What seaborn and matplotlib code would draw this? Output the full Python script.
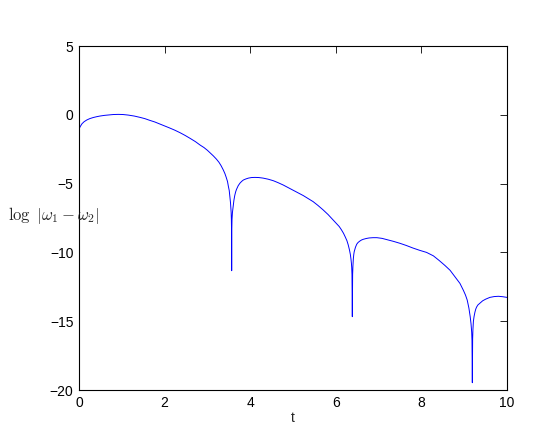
import matplotlib
matplotlib.use("Agg")
import matplotlib.pyplot as plt
import seaborn as sns
import pandas as pd

# values
t = [0.0, 0.03, 0.07, 0.12, 0.18, 0.25, 0.33, 0.41, 0.49, 0.6, 0.7, 0.8, 0.92,
     1.03, 1.15, 1.29, 1.43, 1.54, 1.65, 1.77, 1.89, 2.0, 2.12, 2.24, 2.36, 2.48,
     2.6, 2.72, 2.83, 2.92, 3.0, 3.07, 3.14, 3.21, 3.27, 3.32, 3.37, 3.41, 3.44,
     3.47, 3.49, 3.51, 3.52, 3.53, 3.54, 3.55, 3.555, 3.56, 3.564, 3.567,
     3.57, 3.575, 3.585, 3.6, 3.62, 3.64, 3.66, 3.68, 3.72, 3.76, 3.8, 3.84,
     3.9, 3.96, 4.03, 4.11, 4.2, 4.3, 4.42, 4.54, 4.65, 4.77, 4.88, 5.0, 5.12,
     5.24, 5.35, 5.47, 5.58, 5.7, 5.82, 5.94, 6.01, 6.08, 6.13, 6.18, 6.22, 6.26,
     6.29, 6.32, 6.34, 6.355, 6.365, 6.372, 6.378, 6.386,
     6.393, 6.4, 6.41, 6.42, 6.43, 6.445, 6.46, 6.475, 6.49, 6.52, 6.56, 6.6,
     6.64, 6.71, 6.78, 6.87, 6.96, 7.08, 7.2, 7.35, 7.5, 7.65, 7.8, 7.96, 8.12,
     8.28, 8.42, 8.55, 8.67, 8.78, 8.9, 8.98, 9.03, 9.07, 9.11, 9.14, 9.16,
     9.175, 9.182, 9.19,
     9.197, 9.204, 9.215, 9.23, 9.25, 9.27, 9.29, 9.32, 9.37, 9.43, 9.5, 9.6,
     9.7, 9.8, 9.9, 10.0]
log_diff = [-1.03, -0.85, -0.65, -0.5, -0.38, -0.28, -0.2, -0.14, -0.09, -0.04,
            -0.01, 0.02, 0.03, 0.02, -0.02, -0.09, -0.19, -0.28, -0.4, -0.52,
            -0.67, -0.8, -0.96, -1.12, -1.3, -1.5, -1.72, -1.95, -2.2, -2.38,
            -2.58, -2.78, -2.99, -3.22, -3.45, -3.7, -4.0, -4.28, -4.55, -4.85,
            -5.2, -5.5, -5.8, -6.05, -6.4, -6.8, -7.1, -7.6, -8.4, -11.33,
            -8.4, -7.6, -7.1, -6.7, -6.2, -5.85, -5.6, -5.42, -5.15, -4.97, -4.84,
            -4.74, -4.66, -4.6, -4.56, -4.55, -4.56, -4.6, -4.68, -4.79, -4.93,
            -5.1, -5.28, -5.47, -5.67, -5.87, -6.08, -6.31, -6.58, -6.9, -7.25,
            -7.65, -7.88, -8.12, -8.35, -8.61, -8.87, -9.15, -9.45, -9.83, -10.15,
            -10.5, -10.8, -11.1, -11.6, -14.67,
            -11.6, -11.0, -10.45, -10.15, -9.95, -9.77, -9.62, -9.5, -9.4, -9.28,
            -9.18, -9.1, -9.05, -8.99, -8.95, -8.93, -8.93, -8.98, -9.08, -9.2,
            -9.34, -9.5, -9.68, -9.85, -10.0, -10.25, -10.6, -10.95, -11.3,
            -11.75, -12.25, -12.75, -13.1, -13.46, -14.05, -14.67, -15.2,
            -15.8, -16.4, -19.47,
            -16.3, -15.6, -15.0, -14.67, -14.35, -14.12, -13.97, -13.82, -13.68,
            -13.52, -13.4, -13.27, -13.21, -13.19, -13.22, -13.27]

df = pd.DataFrame({"t": t, "log_diff": log_diff})

sns.set_style("white")
plt.rcParams["font.family"] = ["Liberation Sans", "DejaVu Sans"]
plt.rcParams["mathtext.fontset"] = "cm"

fig = plt.figure(figsize=(5.57, 4.42), dpi=100)
ax = fig.add_axes([79 / 557, 52 / 442, 428 / 557, 344 / 442])

sns.lineplot(data=df, x="t", y="log_diff", ax=ax, color="blue",
             linewidth=0.7, sort=False, estimator=None)

ax.set_xlim(0, 10)
ax.set_ylim(-20, 5)
ax.set_xticks([0, 2, 4, 6, 8, 10])
ax.set_yticks([-20, -15, -10, -5, 0, 5])
ax.tick_params(direction="in", length=5, width=0.6, top=True, right=True,
               labelsize=10, colors="black", pad=4)
for s in ax.spines.values():
    s.set_visible(True)
    s.set_color("black")
    s.set_linewidth(0.8)

ax.set_xlabel("t", fontsize=10, labelpad=1)
ax.set_ylabel("")
fig.text(54 / 557, 1 - 215 / 442, r"$\log\ |\omega_1-\omega_2|$", fontsize=12,
         ha="center", va="center")

fig.savefig("out.png", dpi=100)
